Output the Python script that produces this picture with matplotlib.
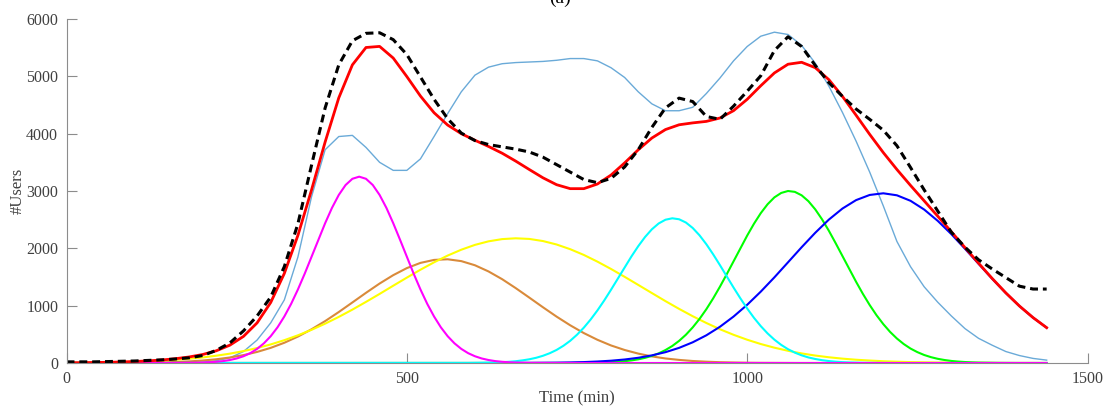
import numpy as np
import matplotlib
matplotlib.use("Agg")
import matplotlib.pyplot as plt

# time axes (minutes)
time_min = np.arange(0, 1441, 20)    # 20-min samples
time_fine = np.arange(0, 1441, 10)   # 10-min samples for the narrow components

magenta = [0]*16 + [1,2,3,5,8,13,21,33,52,79,118,172,246,343,467,622,811,1031,1283,1559,1852,2150,2439,
                    2705,2931,3104,3213,3250,3213,3104,2931,2705,2439,2150,1852,1559,1283,1031,811,622,
                    467,343,246,172,118,79,52,33,21,13,8,5,3,2,1] + [0]*74
cyan = [0]*58 + [1,1,2,4,6,9,14,21,31,46,65,91,126,171,228,300,387,493,616,758,917,1091,1278,1472,1668,
                 1859,2038,2198,2332,2434,2499,2524,2507,2450,2355,2227,2072,1896,1707,1511,1316,1128,
                 951,788,643,516,407,316,241,181,134,97,70,49,34,23,15,10,7,4,3,2,1,1] + [0]*23
green = [0]*73 + [1,1,2,2,4,6,9,14,21,31,45,64,90,124,168,226,297,386,493,621,769,938,1126,1331,1549,
                  1774,2001,2222,2429,2614,2769,2889,2966,3000,2985,2925,2822,2680,2506,2307,2090,1865,
                  1638,1417,1206,1011,834,678,542,427,331,252,190,140,102,73,52,36,25,17,11,7,5,3,2,1,1] + [0]*5
orange = [0,0,1,1,2,4,7,11,18,28,43,65,96,138,193,264,353,461,588,731,889,1056,1224,1386,1532,1655,
          1746,1798,1809,1777,1705,1597,1462,1306,1140,972,809,658,522,405,306,227,164,115,79,54,35,
          23,14,9,5,3,2,1] + [0]*19
yellow = [4,5,8,11,16,22,30,41,56,74,97,127,163,208,261,324,398,483,579,686,804,931,1066,1205,1348,
          1489,1627,1756,1874,1976,2060,2122,2161,2175,2164,2127,2067,1985,1885,1768,1640,1503,1362,
          1220,1079,944,816,698,589,492,406,331,267,213,167,130,100,76,57,43,31,23,16,12,8,6,4,3,2,1,1,1,0]
blue = [0]*32 + [1,1,2,4,6,10,16,26,40,61,91,133,189,264,361,483,632,810,1015,1245,1494,1756,2019,2271,
                 2501,2694,2841,2931,2960,2925,2829,2677,2479,2247,1992,1730,1469,1221,993,791,616]
light_blue = [0,0,0,0,0,0,0,1,2,6,15,40,90,200,400,700,1100,1850,2900,3720,3950,3970,3760,3500,3360,
              3360,3560,3950,4350,4730,5020,5160,5220,5240,5250,5260,5280,5310,5310,5270,5150,4980,4730,
              4520,4400,4400,4460,4700,4970,5270,5520,5700,5770,5730,5540,5230,4830,4370,3870,3330,2740,
              2120,1680,1330,1060,820,600,430,310,200,130,80,50]
red_fit = [4,5,9,12,18,26,37,52,75,105,148,213,311,464,700,1055,1562,2227,3019,3856,4624,5200,5503,5522,
           5319,4996,4656,4365,4150,4000,3885,3777,3659,3521,3374,3230,3110,3041,3041,3122,3278,3490,3719,
           3924,4072,4155,4188,4214,4273,4401,4599,4836,5059,5211,5245,5151,4942,4650,4322,3988,3670,3375,
           3097,2829,2560,2289,2013,1740,1474,1223,994,792,616]
observed = [20,20,20,25,30,35,45,55,70,90,130,220,350,560,820,1150,1680,2430,3450,4450,5200,5620,5750,
            5760,5640,5380,4990,4600,4260,4010,3880,3810,3770,3730,3680,3590,3460,3330,3200,3145,3220,
            3420,3720,4110,4450,4620,4560,4300,4250,4480,4740,5010,5450,5690,5520,5190,4890,4650,4430,
            4250,4060,3790,3410,3020,2650,2280,2020,1800,1640,1490,1340,1290,1290]

x_ticks = [0, 500, 1000, 1500]
y_ticks = [0, 1000, 2000, 3000, 4000, 5000, 6000]

serif = ["Liberation Serif", "DejaVu Serif"]
txt_color = "#404040"
ax_color = "#8c8c8c"

fig = plt.figure(figsize=(11.07, 4.11), dpi=100)
ax = fig.add_axes([66.5/1107, 1-363/411, (1087.5-66.5)/1107, (363-19)/411])

ax.plot(time_min, light_blue, color="#6aaad8", lw=1.0)
ax.plot(time_min, orange, color="#d98a3a", lw=1.5)
ax.plot(time_min, yellow, color="#ffff00", lw=1.5)
ax.plot(time_fine, green, color="#00ff00", lw=1.5)
ax.plot(time_min, blue, color="#0000ff", lw=1.5)
ax.plot(time_fine, cyan, color="#00ffff", lw=1.5)
ax.plot(time_fine, magenta, color="#ff00ff", lw=1.5)
ax.plot(time_min, red_fit, color="#ff0000", lw=2.0)
ax.plot(time_min, observed, color="black", lw=2.2, dashes=(2.6, 1.6))

ax.set_xlim(0, 1500)
ax.set_ylim(0, 6000)
ax.set_xticks(x_ticks)
ax.set_yticks(y_ticks)
ax.set_xticklabels([str(v) for v in x_ticks], family=serif, fontsize=11.5, color=txt_color)
ax.set_yticklabels([str(v) for v in y_ticks], family=serif, fontsize=11.5, color=txt_color)
ax.tick_params(direction="in", length=7, width=0.8, color=ax_color, pad=6)
for s in ["top", "right"]:
    ax.spines[s].set_visible(False)
for s in ["left", "bottom"]:
    ax.spines[s].set_color(ax_color)
    ax.spines[s].set_linewidth(0.8)

ax.set_xlabel("Time (min)", family=serif, fontsize=12, color=txt_color, labelpad=2)
ax.set_ylabel("#Users", family=serif, fontsize=12, color=txt_color, labelpad=0)

fig.text(560/1107, 1 + 2/411, "(a)", ha="center", va="center", family=serif, fontsize=14, color="black")

fig.savefig("out.png", dpi=100)
